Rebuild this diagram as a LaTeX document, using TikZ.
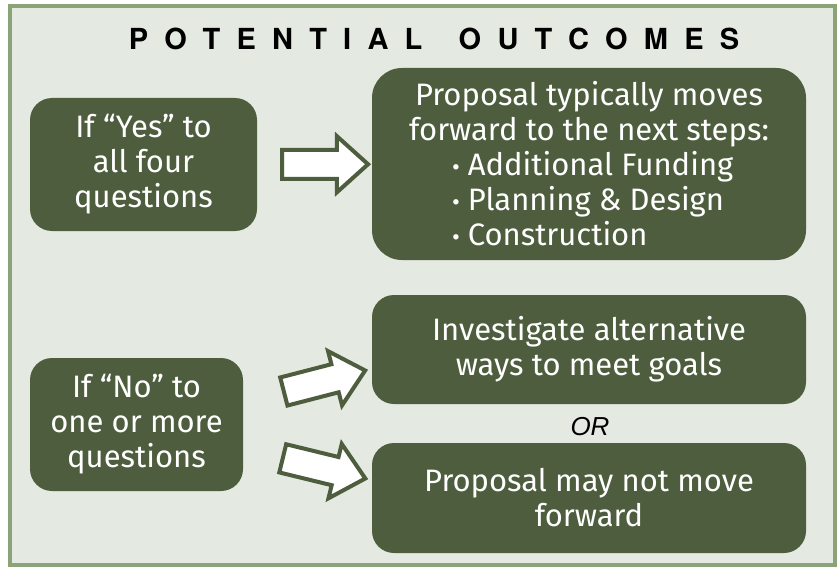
\documentclass[tikz,border=0pt]{standalone}
\usepackage{fontspec}
\setmainfont{Fira Sans}
\newfontfamily\titlefont[LetterSpace=56]{TeX Gyre Heros}
\newfontfamily\orfont{Liberation Sans}
\usetikzlibrary{shapes.arrows,calc}
\definecolor{boxgreen}{RGB}{77,93,61}
\definecolor{panelfill}{RGB}{228,233,225}
\definecolor{panelline}{RGB}{138,164,120}
\newcommand\stepline[1]{\makebox[274pt][l]{{\fontsize{24}{22}\selectfont•}\hspace{8pt}#1}}
\tikzset{
  box/.style={fill=boxgreen,rounded corners=22pt,text=white,align=center,
    font=\fontsize{31}{35}\selectfont,inner sep=0pt},
  bigarrow/.style={single arrow,draw=boxgreen,line width=4pt,fill=white,
    inner sep=12.5pt,single arrow head extend=13.5pt,single arrow tip angle=84}
}
\begin{document}
\begin{tikzpicture}[x=1pt,y=-1pt]
\useasboundingbox (0,0) rectangle (840,567);
\filldraw[fill=panelfill,draw=panelline,line width=4pt] (10,6) rectangle (835,565);
\node[font=\titlefont\bfseries\fontsize{29}{30}\selectfont] (title) at (434,39) {POTENTIAL\hspace{12pt} OUTCOMES};
\node[box,minimum width=227pt,minimum height=133pt] (yes) at (143.5,164.5) {If “Yes” to\\all four\\questions};
\node[box,minimum width=434pt,minimum height=192pt,rounded corners=30pt] (next) at (589,164) {Proposal typically moves\\forward to the next steps:\\\stepline{Additional Funding}\\\stepline{Planning \& Design}\\\stepline{Construction}};
\node[box,minimum width=213pt,minimum height=133pt] (no) at (136.5,424.5) {If “No” to\\one or more\\questions};
\node[box,minimum width=434pt,minimum height=109pt] (alt) at (589,349.5) {Investigate alternative\\ways to meet goals};
\node[box,minimum width=434pt,minimum height=110pt] (notmove) at (589,498) {Proposal may not move\\forward};
\node[font=\orfont\itshape\fontsize{26}{26}\selectfont] (or) at (590,427) {OR};
\node[bigarrow,minimum height=86pt] (yesarrow) at ($(yes.east)!0.5!(next.west)+(2.5,0)$) {};
\node[bigarrow,minimum height=84pt,rotate=14.5] (altarrow) at ($(no.east)+(73.5,-41.5)$) {};
\node[bigarrow,minimum height=85pt,rotate=-13.7] (notarrow) at ($(no.east)+(73,42)$) {};
\end{tikzpicture}
\end{document}
